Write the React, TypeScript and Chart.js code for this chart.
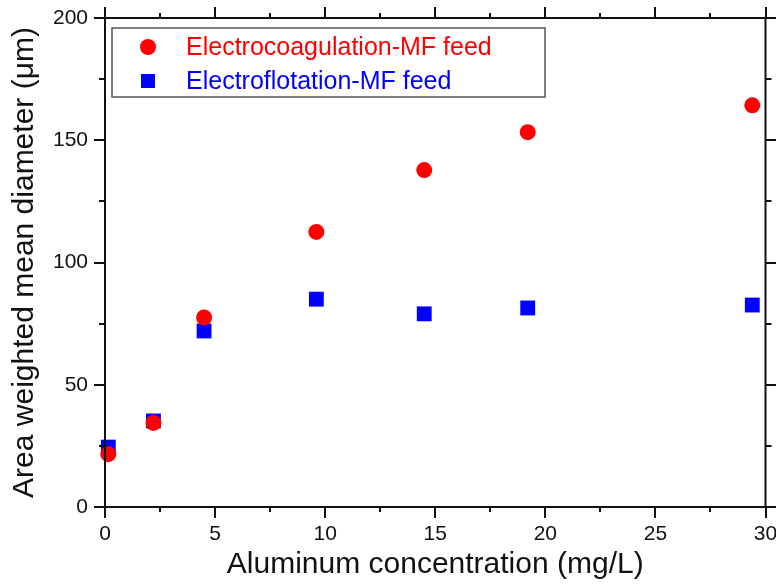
import React, { useEffect, useRef } from "react";
import { Chart, registerables } from "chart.js";

Chart.register(...registerables);

// Aluminum concentration (mg/L)
const aluminum = [0.15, 2.2, 4.5, 9.6, 14.5, 19.2, 29.4];
// Area weighted mean diameter (µm)
const coagulation = [21.6, 34.4, 77.5, 112.5, 137.8, 153.3, 164.3];
const flotation = [24.5, 35.2, 72.0, 85.0, 79.0, 81.4, 82.6];

const xTicksMajor = [0, 5, 10, 15, 20, 25, 30];
const xTicksMinor = [2.5, 7.5, 12.5, 17.5, 22.5, 27.5];
const yTicksMajor = [0, 50, 100, 150, 200];
const yTicksMinor = [25, 75, 125, 175];

const seriesLabels = ["Electrocoagulation-MF feed", "Electroflotation-MF feed"];
const seriesColors = ["#ff0000", "#0000ff"];

const FONT = 'Arial, "Liberation Sans", sans-serif';

// Frame with outward major/minor ticks on all four sides
const framePlugin = {
  id: "frame",
  afterDatasetsDraw(chart: any) {
    const { ctx, chartArea: a, scales } = chart;
    const xs = scales.x;
    const ys = scales.y;
    ctx.save();
    ctx.strokeStyle = "#111";
    ctx.lineWidth = 2;
    ctx.lineCap = "butt";
    ctx.strokeRect(a.left, a.top, a.right - a.left, a.bottom - a.top);
    const tick = (vals: number[], len: number) => {
      ctx.beginPath();
      for (const v of vals) {
        const px = Math.round(xs.getPixelForValue(v));
        ctx.moveTo(px, a.bottom);
        ctx.lineTo(px, a.bottom + len);
        ctx.moveTo(px, a.top);
        ctx.lineTo(px, a.top - len);
      }
      ctx.stroke();
    };
    const tickY = (vals: number[], len: number) => {
      ctx.beginPath();
      for (const v of vals) {
        const py = Math.round(ys.getPixelForValue(v));
        ctx.moveTo(a.left, py);
        ctx.lineTo(a.left - len, py);
        ctx.moveTo(a.right, py);
        ctx.lineTo(a.right + len, py);
      }
      ctx.stroke();
    };
    tick(xTicksMajor, 11);
    tick(xTicksMinor, 5);
    tickY(yTicksMajor, 11);
    tickY(yTicksMinor, 6);
    ctx.restore();
  },
};

// Boxed legend inside the plot area, upper left
const legendPlugin = {
  id: "boxLegend",
  afterDraw(chart: any) {
    const { ctx, chartArea: a } = chart;
    const left = a.left + 7;
    const top = a.top + 10;
    const width = 433;
    const height = 69;
    ctx.save();
    ctx.strokeStyle = "#555";
    ctx.lineWidth = 1.5;
    ctx.strokeRect(left, top, width, height);
    const rows = [top + 19, top + 53];
    chart.data.datasets.forEach((ds: any, i: number) => {
      const cy = rows[i];
      const cx = left + 36;
      ctx.fillStyle = ds.backgroundColor;
      if (ds.pointStyle === "circle") {
        ctx.beginPath();
        ctx.arc(cx, cy, 8, 0, Math.PI * 2);
        ctx.fill();
      } else {
        ctx.fillRect(cx - 7, cy - 7, 14, 14);
      }
      ctx.font = `25px ${FONT}`;
      ctx.textBaseline = "middle";
      ctx.textAlign = "left";
      ctx.fillText(ds.label, left + 74, cy + 1);
    });
    ctx.restore();
  },
};

export default function App() {
  const ref = useRef<HTMLCanvasElement | null>(null);

  useEffect(() => {
    if (!ref.current) return;
    const chart = new Chart(ref.current, {
      type: "scatter",
      data: {
        datasets: [
          {
            label: seriesLabels[0],
            data: aluminum.map((x, i) => ({ x, y: coagulation[i] })),
            backgroundColor: seriesColors[0],
            borderColor: seriesColors[0],
            borderWidth: 0,
            pointStyle: "circle",
            pointRadius: 8,
            pointHoverRadius: 8,
          },
          {
            label: seriesLabels[1],
            data: aluminum.map((x, i) => ({ x, y: flotation[i] })),
            backgroundColor: seriesColors[1],
            borderColor: seriesColors[1],
            borderWidth: 0,
            pointStyle: "rect",
            pointRadius: 10.5,
            pointHoverRadius: 10.5,
          },
        ],
      },
      plugins: [framePlugin, legendPlugin],
      options: {
        animation: false,
        responsive: false,
        maintainAspectRatio: false,
        clip: false as any,
        layout: { padding: { top: 18, right: 10, left: 0, bottom: 0 } },
        plugins: {
          legend: { display: false },
          tooltip: { enabled: false },
        },
        scales: {
          x: {
            type: "linear",
            min: 0,
            max: 30,
            afterFit: (s: any) => {
              s.height = 79;
              s.paddingLeft = 0;
              s.paddingRight = 0;
            },
            grid: { display: false, drawTicks: false },
            border: { display: false },
            ticks: {
              stepSize: 5,
              padding: 15,
              color: "#111",
              font: { family: FONT, size: 21 },
            },
            title: {
              display: true,
              text: "Aluminum concentration (mg/L)",
              color: "#111",
              font: { family: FONT, size: 30 },
              padding: { top: 0, bottom: 3 },
            },
          },
          y: {
            type: "linear",
            min: 0,
            max: 200,
            afterFit: (s: any) => {
              s.width = 105;
              s.paddingTop = 0;
              s.paddingBottom = 0;
            },
            grid: { display: false, drawTicks: false },
            border: { display: false },
            ticks: {
              stepSize: 50,
              padding: 17,
              color: "#111",
              font: { family: FONT, size: 21 },
            },
            title: {
              display: true,
              text: "Area weighted mean diameter (\u03bcm)",
              color: "#111",
              font: { family: FONT, size: 30 },
              padding: { top: 7, bottom: 0 },
            },
          },
        },
      },
    });
    return () => chart.destroy();
  }, []);

  return (
    <div
      style={{
        position: "fixed",
        left: 0,
        top: 0,
        width: 776,
        height: 586,
        background: "#fff",
      }}
    >
      <canvas ref={ref} width={776} height={586} style={{ display: "block" }} />
    </div>
  );
}
